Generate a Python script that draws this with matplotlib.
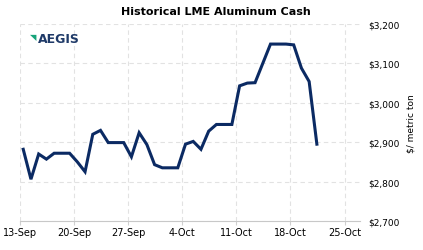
import matplotlib
matplotlib.use("Agg")
import matplotlib.pyplot as plt
import matplotlib.dates as mdates
import matplotlib.ticker as mticker
import pandas as pd

# daily LME cash price, weekends carried flat ($/t)
start = "2021-09-13 10:00"
prices = [2882, 2806, 2870, 2857, 2872, 2872, 2872,
          2850, 2825, 2920, 2930, 2899, 2899, 2899,
          2863, 2924, 2894, 2843, 2835, 2835, 2835,
          2895, 2902, 2882, 2928, 2945, 2945, 2945,
          3043, 3050, 3051, 3100, 3149, 3149, 3149,
          3147, 3088, 3054, 2895]
dates = pd.date_range(start, periods=len(prices), freq="D")

tick_dates = pd.date_range("2021-09-13", "2021-10-25", freq="7D")
y_ticks = [2700, 2800, 2900, 3000, 3100, 3200]

fig = plt.figure(figsize=(4.23, 2.51), dpi=100)
ax = fig.add_axes([0.0473, 0.1155, 0.8038, 0.785])

ax.plot(dates, prices, color="#0b2a63", lw=2.2, solid_joinstyle="miter")

ax.set_xlim(pd.Timestamp("2021-09-13"), pd.Timestamp("2021-10-27"))
ax.set_ylim(2700, 3200)
ax.set_xticks(tick_dates)
ax.xaxis.set_major_formatter(mticker.FuncFormatter(
    lambda v, p: f"{mdates.num2date(v).day}-{mdates.num2date(v).strftime('%b')}"))
ax.set_yticks(y_ticks)
ax.yaxis.set_major_formatter(mticker.FuncFormatter(lambda v, p: f"${v:,.0f}"))
ax.yaxis.tick_right()
ax.yaxis.set_label_position("right")

ax.grid(True, color="#e2e2e2", ls=(0, (4, 3)), lw=0.8)
for s in ["top", "right", "left"]:
    ax.spines[s].set_visible(False)
ax.spines["bottom"].set_color("#c8c8c8")
ax.tick_params(axis="x", length=3, color="#d0d0d0", labelsize=7, pad=1)
ax.tick_params(axis="y", length=0, labelsize=6.5, pad=6)
ax.set_ylabel("$/ metric ton", fontsize=6.5, labelpad=5)

fig.text(0.51, 0.952, "Historical LME Aluminum Cash", ha="center", va="center",
         fontsize=8, fontweight="bold")

# logo
ax.text(0.03, 0.935, "\u25e5", transform=ax.transAxes, color="#16a37a",
        fontsize=6, va="center", ha="left")
ax.text(0.052, 0.925, "AEGIS", transform=ax.transAxes, color="#1f3a68",
        fontsize=9, va="center", ha="left", fontweight="bold")

fig.savefig("out.png", dpi=100)
